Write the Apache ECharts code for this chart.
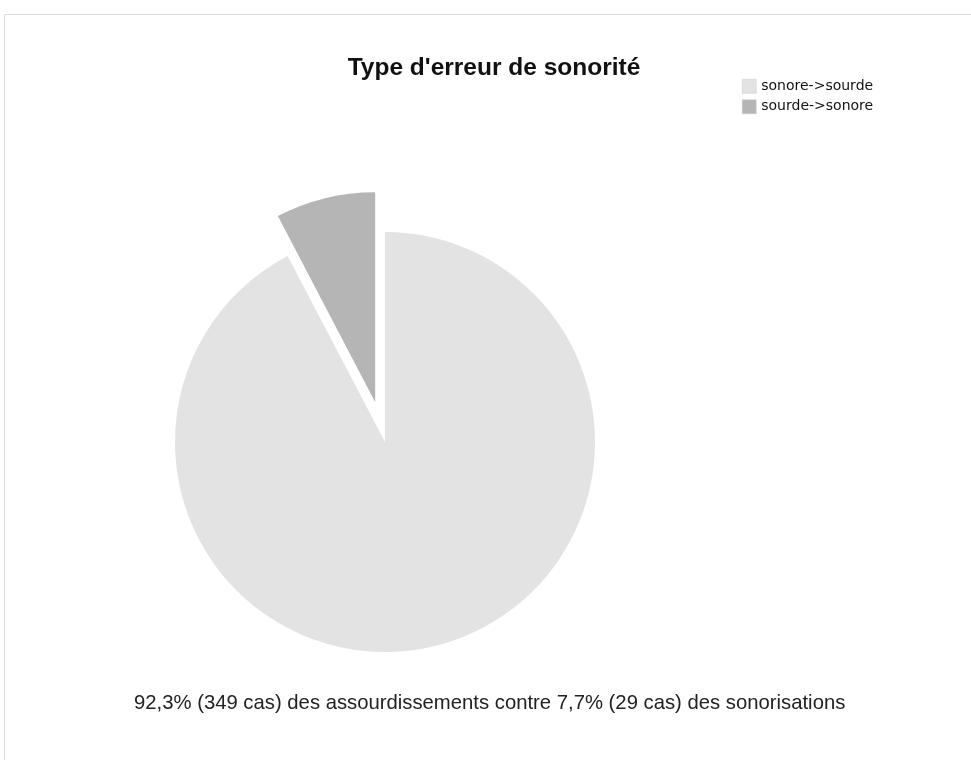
<!DOCTYPE html>
<html>
<head>
<meta charset="utf-8">
<script src="https://cdn.jsdelivr.net/npm/echarts@6/dist/echarts.min.js"></script>
<style>
  html, body { margin: 0; padding: 0; background: #fff; }
  #chart { width: 971px; height: 760px; }
</style>
</head>
<body>
<div id="chart"></div>
<script>
// categories and counts
const categories = ['sonore->sourde', 'sourde->sonore'];
const counts = [349, 29];
const sliceColors = ['#e3e3e3', '#b5b5b5'];
const title = "Type d'erreur de sonorité";
const footnote = '92,3% (349 cas) des assourdissements contre 7,7% (29 cas) des sonorisations';

const chart = echarts.init(document.getElementById('chart'));

const pieData = categories.map((name, i) => ({
    name: name,
    value: counts[i],
    selected: i === 1,
    itemStyle: { color: sliceColors[i] }
}));

chart.setOption({
    animation: false,
    graphic: [
        {
            type: 'rect',
            shape: { x: 4.5, y: 14.5, width: 980, height: 760 },
            style: { fill: 'none', stroke: '#dcdcdc', lineWidth: 1 }
        },
        {
            type: 'text',
            left: 134,
            top: 693,
            style: {
                text: footnote,
                font: '20.3px "Liberation Sans", Arial, sans-serif',
                fill: '#222'
            }
        }
    ],
    title: {
        text: title,
        left: 489,
        top: 51,
        textAlign: 'center',
        textStyle: {
            fontFamily: '"Liberation Sans", Arial, sans-serif',
            fontSize: 24.5,
            fontWeight: 'bold',
            color: '#111'
        }
    },
    legend: {
        orient: 'vertical',
        left: 737,
        top: 74,
        itemWidth: 14,
        itemHeight: 14,
        itemGap: 6,
        icon: 'rect',
        selectedMode: false,
        itemStyle: { borderColor: '#c8c8c8', borderWidth: 0.5 },
        textStyle: {
            fontFamily: '"DejaVu Sans", sans-serif',
            fontSize: 14,
            color: '#111'
        },
        data: categories
    },
    series: [{
        type: 'pie',
        center: [385, 442],
        radius: [0, 210],
        startAngle: 90,
        clockwise: true,
        selectedMode: 'single',
        selectedOffset: 41,
        label: { show: false },
        labelLine: { show: false },
        emphasis: { disabled: true },
        itemStyle: { borderWidth: 0 },
        data: pieData
    }]
});
</script>
</body>
</html>
